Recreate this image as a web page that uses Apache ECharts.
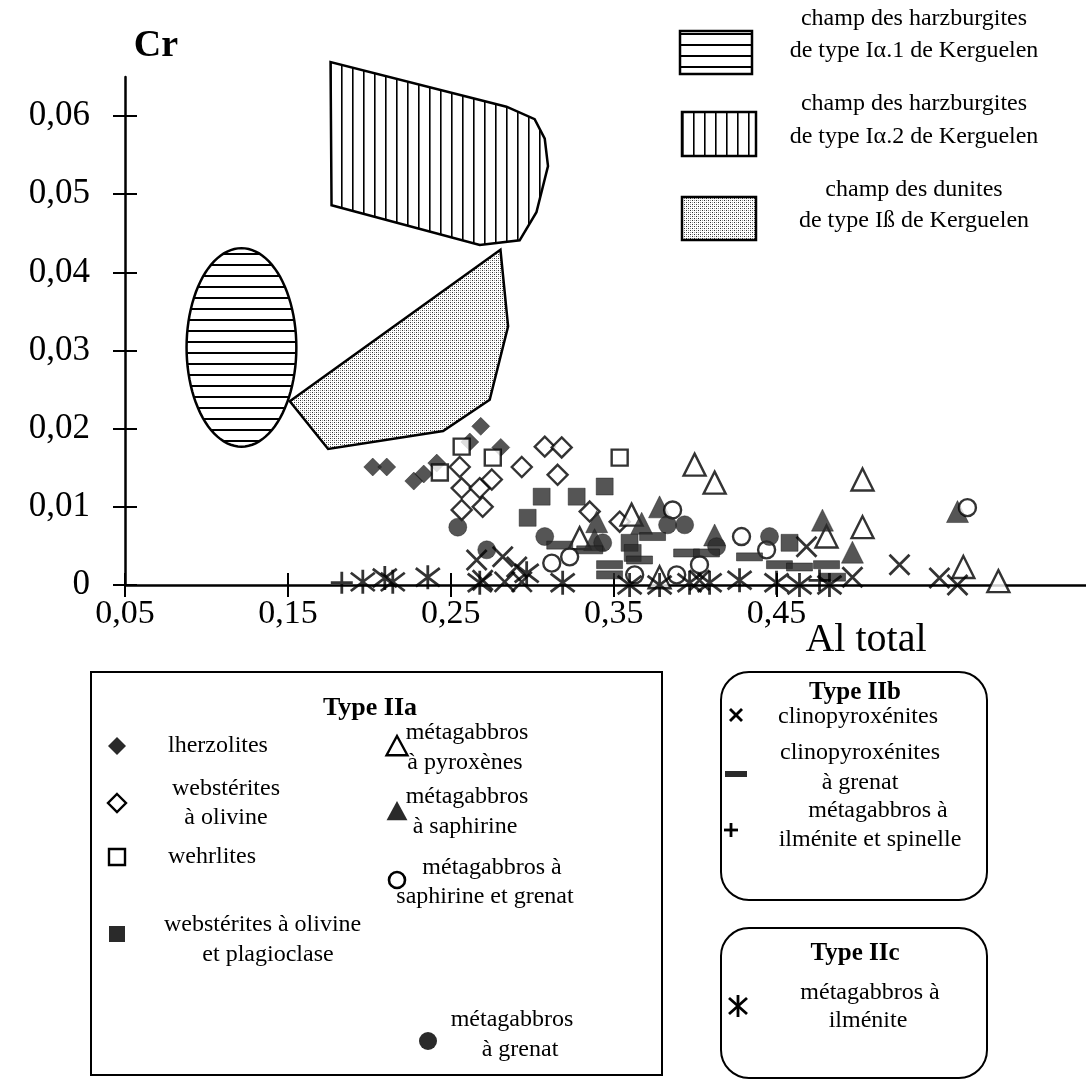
<!DOCTYPE html>
<html><head><meta charset="utf-8">
<script src="https://cdn.jsdelivr.net/npm/echarts@6/dist/echarts.min.js"></script>
<style>html,body{margin:0;padding:0;background:#fff}#c{width:1086px;height:1086px}</style>
</head><body><div id="c"></div>
<script>
// ---- axis ticks ----
const xTicks = [0.05, 0.15, 0.25, 0.35, 0.45];
const yTicks = [0, 0.01, 0.02, 0.03, 0.04, 0.05, 0.06];

// ---- Kerguelen fields ----
const fieldIa1 = [[0.1215, 0.0304, 0.0337, 0.0127]]; // ellipse: centre x, centre y, half-width, half-height
const fieldIa2 = [[0.1762,0.0669],[0.1768,0.0486],[0.2678,0.0435],[0.2923,0.0441],[0.3026,0.0477],[0.3097,0.0536],[0.3077,0.0571],[0.3015,0.0596],[0.2842,0.0612]];
const fieldIb = [[0.2805,0.0429],[0.2852,0.0331],[0.2739,0.0237],[0.2453,0.0197],[0.1747,0.0174],[0.1512,0.0235]];

// ---- Type IIa ----
const lherzolites = [[0.2021,0.0151],[0.2107,0.0151],[0.2273,0.0133],[0.2334,0.0142],[0.2414,0.0156],[0.2617,0.0183],[0.2684,0.0203],[0.2807,0.0176]];
const websteritesOl = [[0.2555,0.0151],[0.2567,0.0124],[0.2678,0.0124],[0.2752,0.0135],[0.2567,0.0096],[0.2696,0.0100],[0.2936,0.0151],[0.3077,0.0177],[0.3181,0.0176],[0.3156,0.0141],[0.3353,0.0094],[0.3537,0.0081]];
const wehrlites = [[0.2433,0.0144],[0.2567,0.0177],[0.2758,0.0163],[0.3537,0.0163]];
const websteritesOlPl = [[0.2972,0.0086],[0.3058,0.0113],[0.3273,0.0113],[0.3445,0.0126],[0.3598,0.0054],[0.3617,0.0041],[0.4580,0.0054]];
const mgPyroxenes = [[0.3997,0.0154],[0.4120,0.0131],[0.5028,0.0135],[0.5028,0.0074],[0.4807,0.0062],[0.3610,0.0090],[0.3291,0.0060],[0.3782,0.0010],[0.5647,0.0023],[0.5862,0.0005]];
const mgSaphirine = [[0.3782,0.0100],[0.3396,0.0081],[0.3672,0.0079],[0.3383,0.0058],[0.4120,0.0064],[0.4782,0.0083],[0.4966,0.0042],[0.5611,0.0094]];
const mgSaphGrenat = [[0.3862,0.0096],[0.4285,0.0062],[0.3230,0.0036],[0.3120,0.0028],[0.3887,0.0013],[0.4439,0.0045],[0.5672,0.0099],[0.4027,0.0026],[0.3629,0.0013]];
const mgGrenat = [[0.2543,0.0074],[0.2721,0.0045],[0.3077,0.0062],[0.3831,0.0077],[0.3936,0.0077],[0.4457,0.0062],[0.4132,0.0049],[0.3433,0.0054]];
// ---- Type IIb ----
const clinopyroxenites = [[0.2659,0.0032],[0.2819,0.0036],[0.2905,0.0023],[0.2696,0.0006],[0.2831,0.0004],[0.2936,0.0004],[0.4684,0.0049],[0.4966,0.0010],[0.5255,0.0026],[0.5500,0.0009],[0.5611,0.0000],[0.4027,0.0006]];
const clinoGrenat = [[0.3475,0.0026],[0.3475,0.0013],[0.3739,0.0062],[0.3948,0.0041],[0.4070,0.0041],[0.4334,0.0036],[0.4518,0.0026],[0.4641,0.0023],[0.4807,0.0026],[0.4844,0.0010],[0.3169,0.0051],[0.3353,0.0045],[0.3659,0.0032]];
const mgIlmSpinelle = [[0.1831,0.0003],[0.4764,0.0006]];
// ---- Type IIc ----
const mgIlmenite = [[0.1960,0.0004],[0.2095,0.0009],[0.2144,0.0004],[0.2359,0.0010],[0.2678,0.0003],[0.2966,0.0015],[0.3187,0.0003],[0.3598,0],[0.3782,0],[0.3966,0.0003],[0.4089,0.0003],[0.4273,0.0006],[0.4500,0.0003],[0.4641,0],[0.4825,0]];

const SERIF = '"Liberation Serif","Times New Roman",serif';
const DARK = '#2a2a2a';

function makePattern(w, h, draw) {
  const c = document.createElement('canvas'); c.width = w; c.height = h;
  const g = c.getContext('2d'); g.fillStyle = '#fff'; g.fillRect(0, 0, w, h); draw(g);
  return {image: c, repeat: 'repeat'};
}
const patH = makePattern(4, 11, g => { g.fillStyle = '#000'; g.fillRect(0, 0, 4, 2); });
const patV = makePattern(11, 4, g => { g.fillStyle = '#000'; g.fillRect(0, 0, 1.6, 4); });
const patDot = makePattern(4, 4, g => { g.fillStyle = '#333'; g.fillRect(0, 0, 1, 1); g.fillRect(2, 2, 1, 1); g.fillStyle = '#999'; g.fillRect(2, 0, 1, 1); g.fillRect(0, 2, 1, 1); });

const SYM = {
  cross: 'path://M0,0L10,10M10,0L0,10',
  plus: 'path://M5,0L5,10M0,5L10,5',
  aster: 'path://M5,0L5,10M0.6,1.2L9.4,8.8M9.4,1.2L0.6,8.8'
};

function polyRender(points, fill) {
  return function (params, api) {
    if (params.dataIndex !== 0) return null;
    return {type: 'polygon', shape: {points: points.map(p => api.coord(p))},
      style: {fill: fill, stroke: '#000', lineWidth: 2.5}};
  };
}
function ellipseRender(params, api) {
  const c = api.coord([api.value(0), api.value(1)]);
  const s = api.size([api.value(2), api.value(3)]);
  const pts = [];
  for (let i = 0; i < 96; i++) { const a = i / 96 * Math.PI * 2; pts.push([c[0] + s[0] * Math.cos(a), c[1] + s[1] * Math.sin(a)]); }
  return {type: 'polygon', shape: {points: pts}, style: {fill: patH, stroke: '#000', lineWidth: 2.5}};
}

function sc(name, data, symbol, size, filled, extra) {
  const s = {type: 'scatter', name: name, data: data, symbol: symbol, symbolSize: size, z: 5,
    itemStyle: filled ? {color: DARK, borderColor: '#111', borderWidth: 0.5} : {color: '#fff', borderColor: '#000', borderWidth: 2.4},
    emphasis: {disabled: true}, animation: false};
  return Object.assign(s, extra || {});
}
const lineSym = {itemStyle: {color: 'none', borderColor: '#000', borderWidth: 2.8}};

const fmt = v => String(+v.toFixed(2)).replace('.', ',');

// ---- legend graphics ----
const G = [];
function txt(x, y, s, size, bold, align) {
  G.push({type: 'text', x: x, y: y, style: {text: s, fill: '#000', font: (bold ? 'bold ' : '') + size + 'px ' + SERIF,
    align: align || 'center', verticalAlign: 'middle', textAlign: align || 'center', textVerticalAlign: 'middle'}});
}
// top right field legend
G.push({type: 'rect', shape: {x: 680, y: 31, width: 72, height: 43}, style: {fill: patH, stroke: '#000', lineWidth: 2.5}});
G.push({type: 'rect', shape: {x: 682, y: 112, width: 74, height: 44}, style: {fill: patV, stroke: '#000', lineWidth: 2.5}});
G.push({type: 'rect', shape: {x: 682, y: 197, width: 74, height: 43}, style: {fill: patDot, stroke: '#000', lineWidth: 2.5}});
const TF = 24;
txt(914, 19, 'champ des harzburgites', TF); txt(914, 51, 'de type I\u03b1.1 de Kerguelen', TF);
txt(914, 104, 'champ des harzburgites', TF); txt(914, 137, 'de type I\u03b1.2 de Kerguelen', TF);
txt(914, 190, 'champ des dunites', TF); txt(914, 221, 'de type I\u00df de Kerguelen', TF);
// axis names
txt(156, 46, 'Cr', 38, true);
txt(866, 640, 'Al total', 40, false);

// Type IIa box
G.push({type: 'rect', shape: {x: 91, y: 672, width: 571, height: 403}, style: {fill: 'none', stroke: '#000', lineWidth: 2}});
txt(370, 708, 'Type IIa', 26, true);
const LF = 24;
function diamond(cx, cy, r, filled) { G.push({type: 'polygon', shape: {points: [[cx, cy - r], [cx + r, cy], [cx, cy + r], [cx - r, cy]]}, style: filled ? {fill: DARK} : {fill: '#fff', stroke: '#000', lineWidth: 2.4}}); }
function square(cx, cy, r, filled) { G.push({type: 'rect', shape: {x: cx - r, y: cy - r, width: 2 * r, height: 2 * r}, style: filled ? {fill: DARK} : {fill: '#fff', stroke: '#000', lineWidth: 2.4}}); }
function tri(cx, cy, r, filled) { G.push({type: 'polygon', shape: {points: [[cx, cy - r], [cx + r * 0.95, cy + r * 0.75], [cx - r * 0.95, cy + r * 0.75]]}, style: filled ? {fill: DARK} : {fill: '#fff', stroke: '#000', lineWidth: 2.4}}); }
function circ(cx, cy, r, filled) { G.push({type: 'circle', shape: {cx: cx, cy: cy, r: r}, style: filled ? {fill: DARK} : {fill: '#fff', stroke: '#000', lineWidth: 2.6}}); }
function seg(x1, y1, x2, y2, w) { G.push({type: 'line', shape: {x1: x1, y1: y1, x2: x2, y2: y2}, style: {stroke: '#000', lineWidth: w || 2.8}}); }

diamond(117, 746, 9, true); txt(168, 746, 'lherzolites', LF, false, 'left');
diamond(117, 803, 9, false); txt(226, 789, 'webst\u00e9rites', LF); txt(226, 818, '\u00e0 olivine', LF);
square(117, 857, 8, false); txt(168, 857, 'wehrlites', LF, false, 'left');
square(117, 934, 8, true); txt(164, 925, 'webst\u00e9rites \u00e0 olivine', LF, false, 'left'); txt(268, 955, 'et plagioclase', LF);
tri(397, 747, 11, false); txt(467, 733, 'm\u00e9tagabbros', LF); txt(465, 763, '\u00e0 pyrox\u00e8nes', LF);
tri(397, 812, 11, true); txt(467, 797, 'm\u00e9tagabbros', LF); txt(465, 827, '\u00e0 saphirine', LF);
circ(397, 880, 8, false); txt(492, 868, 'm\u00e9tagabbros \u00e0', LF); txt(485, 897, 'saphirine et grenat', LF);
circ(428, 1041, 9, true); txt(512, 1020, 'm\u00e9tagabbros', LF); txt(520, 1050, '\u00e0 grenat', LF);

// Type IIb box
G.push({type: 'rect', shape: {x: 721, y: 672, width: 266, height: 228, r: 28}, style: {fill: 'none', stroke: '#000', lineWidth: 2}});
txt(855, 693, 'Type IIb', 25, true);
seg(730, 709, 742, 721); seg(742, 709, 730, 721);
txt(858, 717, 'clinopyrox\u00e9nites', LF);
G.push({type: 'rect', shape: {x: 725, y: 771, width: 22, height: 6}, style: {fill: DARK}});
txt(860, 753, 'clinopyrox\u00e9nites', LF); txt(860, 783, '\u00e0 grenat', LF);
seg(731, 823, 731, 837); seg(724, 830, 738, 830);
txt(878, 811, 'm\u00e9tagabbros \u00e0', LF); txt(870, 840, 'ilm\u00e9nite et spinelle', LF);

// Type IIc box
G.push({type: 'rect', shape: {x: 721, y: 928, width: 266, height: 150, r: 28}, style: {fill: 'none', stroke: '#000', lineWidth: 2}});
txt(855, 954, 'Type IIc', 25, true);
seg(738, 995, 738, 1017); seg(729, 998, 747, 1014); seg(747, 998, 729, 1014);
txt(870, 993, 'm\u00e9tagabbros \u00e0', LF); txt(868, 1021, 'ilm\u00e9nite', LF);

const chart = echarts.init(document.getElementById('c'), null, {renderer: 'canvas'});
const axCommon = {type: 'value', splitLine: {show: false}};
chart.setOption({
  animation: false,
  backgroundColor: '#fff',
  grid: {left: 125, right: 0, top: 77, bottom: 501, containLabel: false},
  xAxis: [
    Object.assign({}, axCommon, {min: 0.05, max: 0.64, position: 'bottom',
      axisLine: {onZero: false, lineStyle: {color: '#000', width: 2.5}},
      axisTick: {customValues: xTicks, length: 12, lineStyle: {color: '#000', width: 2}},
      axisLabel: {customValues: xTicks, formatter: fmt, margin: 12, color: '#000', fontFamily: SERIF, fontSize: 34}}),
    Object.assign({}, axCommon, {min: 0.05, max: 0.64, position: 'bottom', offset: 0,
      axisLine: {show: false},
      axisTick: {customValues: xTicks, inside: true, length: 12, lineStyle: {color: '#000', width: 2}},
      axisLabel: {show: false}})
  ],
  yAxis: [
    Object.assign({}, axCommon, {min: 0, max: 0.065, position: 'left',
      axisLine: {onZero: false, lineStyle: {color: '#000', width: 2.5}},
      axisTick: {customValues: yTicks, length: 12, lineStyle: {color: '#000', width: 2}},
      axisLabel: {customValues: yTicks, formatter: fmt, margin: 35, color: '#000', fontFamily: SERIF, fontSize: 35}}),
    Object.assign({}, axCommon, {min: 0, max: 0.065, position: 'left', offset: 0,
      axisLine: {show: false},
      axisTick: {customValues: yTicks, inside: true, length: 12, lineStyle: {color: '#000', width: 2}},
      axisLabel: {show: false}})
  ],
  series: [
    {type: 'custom', name: 'Ia2', data: fieldIa2, renderItem: polyRender(fieldIa2, patV), clip: false, z: 1, silent: true},
    {type: 'custom', name: 'Ib', data: fieldIb, renderItem: polyRender(fieldIb, patDot), clip: false, z: 1, silent: true},
    {type: 'custom', name: 'Ia1', data: fieldIa1, renderItem: ellipseRender, clip: false, z: 1, silent: true},
    sc('lherzolites', lherzolites, 'diamond', 18, true),
    sc('webstérites à olivine', websteritesOl, 'diamond', 20, false),
    sc('wehrlites', wehrlites, 'rect', 16, false),
    sc('webstérites à olivine et plagioclase', websteritesOlPl, 'rect', 17, true),
    sc('métagabbros à pyroxènes', mgPyroxenes, 'triangle', 22, false),
    sc('métagabbros à saphirine', mgSaphirine, 'triangle', 22, true),
    sc('métagabbros à saphirine et grenat', mgSaphGrenat, 'circle', 17, false),
    sc('métagabbros à grenat', mgGrenat, 'circle', 18, true),
    sc('clinopyroxénites', clinopyroxenites, SYM.cross, 20, false, lineSym),
    sc('clinopyroxénites à grenat', clinoGrenat, 'rect', [26, 8], true),
    sc('métagabbros à ilménite et spinelle', mgIlmSpinelle, SYM.plus, 22, false, lineSym),
    sc('métagabbros à ilménite', mgIlmenite, SYM.aster, 24, false, lineSym)
  ],
  graphic: G
});
</script>
</body></html>
